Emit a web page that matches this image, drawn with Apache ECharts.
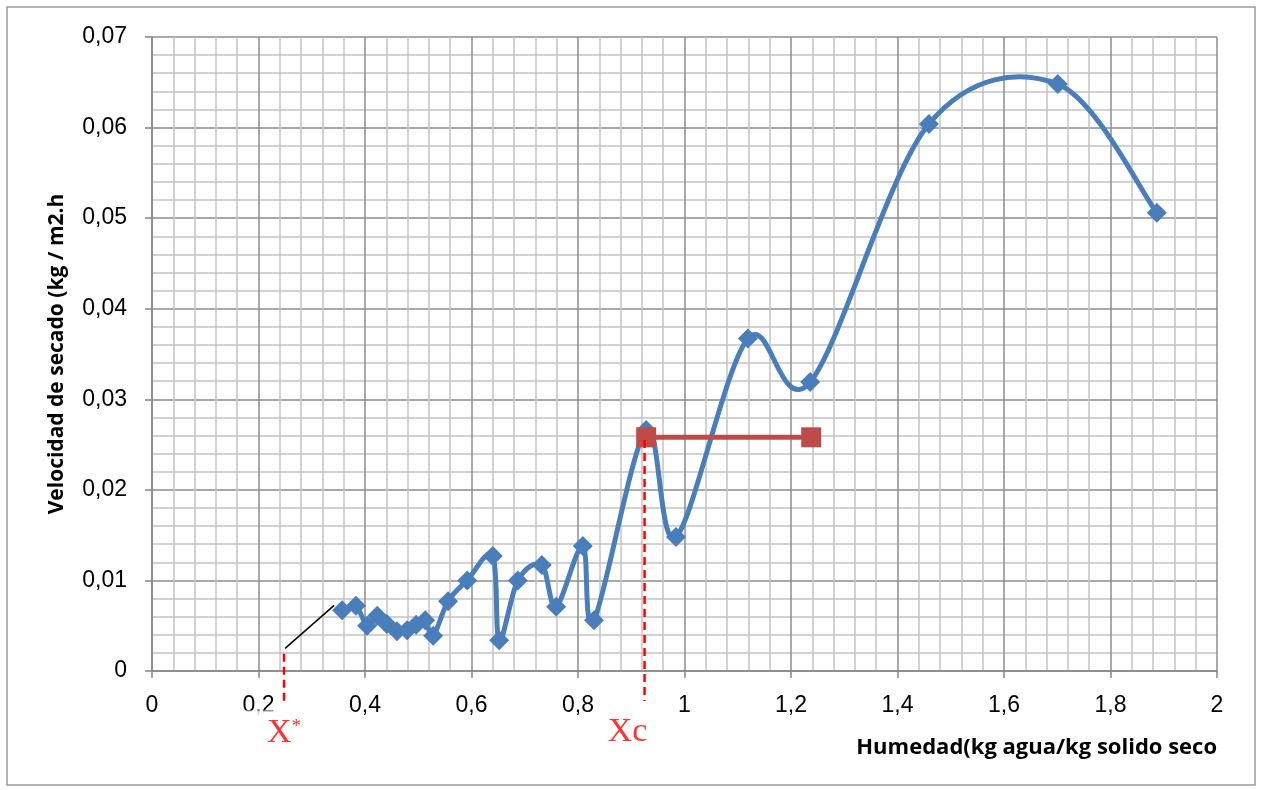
<!DOCTYPE html>
<html>
<head>
<meta charset="utf-8">
<script src="https://cdn.jsdelivr.net/npm/echarts@6/dist/echarts.min.js"></script>
<style>
  html, body { margin: 0; padding: 0; background: #fff; }
  #chart { width: 1261px; height: 790px; }
</style>
</head>
<body>
<div id="chart"></div>
<script>
// humedad (kg agua / kg solido seco) vs velocidad de secado
const humedad = [0.357, 0.383, 0.404, 0.423, 0.441, 0.460, 0.479, 0.496, 0.513, 0.528,
  0.556, 0.592, 0.640, 0.652, 0.687, 0.732, 0.759, 0.809, 0.830, 0.928,
  0.984, 1.119, 1.236, 1.459, 1.701, 1.887];
const velocidad = [0.0067, 0.0072, 0.0050, 0.0061, 0.0052, 0.0044, 0.0045, 0.0051, 0.0056, 0.0039,
  0.0077, 0.0100, 0.0127, 0.0034, 0.0100, 0.0117, 0.0071, 0.0138, 0.0056, 0.0266,
  0.0148, 0.0367, 0.0319, 0.0604, 0.0648, 0.0506];

// velocidad constante (periodo critico)
const criticoX = [0.928, 1.238];
const criticoY = [0.0258, 0.0258];

// marcas X* y Xc
const xEstrella = 0.248;
const xCritica = 0.925;
const tangenteX = [0.250, 0.342];
const tangenteY = [0.0025, 0.00725];

const xTicks = { min: 0, max: 2, step: 0.2 };
const yTicks = { min: 0, max: 0.07, step: 0.01 };

const fmt = v => String(+v.toFixed(3)).replace('.', ',');
const AZUL = '#4a7ebb';
const ROJO = '#be4b48';

// curva suavizada tipo Excel (bezier con tangentes de Catmull-Rom)
function tramoSuave(params, api) {
  const i = params.dataIndex;
  const n = humedad.length;
  if (i >= n - 1) return null;
  const pt = k => api.coord([humedad[k], velocidad[k]]);
  const p0 = pt(Math.max(i - 1, 0));
  const p1 = pt(i);
  const p2 = pt(i + 1);
  const p3 = pt(Math.min(i + 2, n - 1));
  const t = 1 / 6;
  return {
    type: 'bezierCurve',
    shape: {
      x1: p1[0], y1: p1[1], x2: p2[0], y2: p2[1],
      cpx1: p1[0] + (p2[0] - p0[0]) * t, cpy1: p1[1] + (p2[1] - p0[1]) * t,
      cpx2: p2[0] - (p3[0] - p1[0]) * t, cpy2: p2[1] - (p3[1] - p1[1]) * t
    },
    style: { fill: 'none', stroke: AZUL, lineWidth: 5, lineCap: 'round' }
  };
}

const chart = echarts.init(document.getElementById('chart'));

const puntos = humedad.map((x, i) => [x, velocidad[i]]);

const option = {
  animation: false,
  graphic: [{
    type: 'rect',
    shape: { x: 7, y: 7, width: 1248, height: 778 },
    style: { fill: 'none', stroke: '#9a9a9a', lineWidth: 1.5 },
    z: -1
  }],
  grid: { left: 152, right: 44, top: 37, bottom: 119 },
  xAxis: {
    type: 'value',
    min: xTicks.min, max: xTicks.max, interval: xTicks.step,
    name: 'Humedad(kg agua/kg solido seco',
    nameLocation: 'end',
    nameGap: 0,
    nameTextStyle: {
      align: 'right', verticalAlign: 'top', padding: [66, 0, 0, 0],
      fontFamily: 'Open Sans', fontWeight: 'bold', fontSize: 22, color: '#000'
    },
    axisLine: { show: true, lineStyle: { color: '#868686', width: 1.5 } },
    axisTick: { show: true, length: 7, lineStyle: { color: '#868686', width: 1.5 } },
    axisLabel: { formatter: fmt, margin: 23, fontFamily: 'Liberation Sans', fontSize: 23, color: '#000' },
    splitLine: { show: true, lineStyle: { color: '#8c8c8c', width: 1.5 } },
    minorTick: { show: false, splitNumber: 5 },
    minorSplitLine: { show: true, lineStyle: { color: '#c4c4c4', width: 1.5 } }
  },
  yAxis: {
    type: 'value',
    min: yTicks.min, max: yTicks.max, interval: yTicks.step,
    name: 'Velocidad de secado (kg / m2.h',
    nameLocation: 'middle',
    nameGap: 84,
    nameTextStyle: { fontFamily: 'Open Sans', fontWeight: 'bold', fontSize: 21, color: '#000' },
    axisLine: { show: true, lineStyle: { color: '#868686', width: 1.5 } },
    axisTick: { show: true, length: 7, lineStyle: { color: '#868686', width: 1.5 } },
    axisLabel: { formatter: fmt, margin: 25, fontFamily: 'Liberation Sans', fontSize: 23, color: '#000' },
    splitLine: { show: true, lineStyle: { color: '#8c8c8c', width: 1.5 } },
    minorTick: { show: false, splitNumber: 5 },
    minorSplitLine: { show: true, lineStyle: { color: '#c4c4c4', width: 1.5 } }
  },
  series: [
    {
      name: 'curva',
      type: 'custom',
      renderItem: tramoSuave,
      data: puntos,
      encode: { x: 0, y: 1 },
      z: 3
    },
    {
      name: 'velocidad',
      type: 'scatter',
      data: puntos,
      symbol: 'diamond',
      symbolSize: 20,
      itemStyle: { color: AZUL, opacity: 1 },
      z: 4
    },
    {
      name: 'critico',
      type: 'line',
      data: criticoX.map((x, i) => [x, criticoY[i]]),
      symbol: 'rect',
      symbolSize: 20,
      itemStyle: { color: ROJO },
      lineStyle: { color: ROJO, width: 5 },
      z: 5
    },
    {
      name: 'tangente',
      type: 'line',
      data: tangenteX.map((x, i) => [x, tangenteY[i]]),
      symbol: 'none',
      lineStyle: { color: '#000', width: 1.5 },
      z: 2
    },
    {
      name: 'xEstrella',
      type: 'line',
      clip: false,
      data: [[xEstrella, 0.0019], [xEstrella, -0.0033]],
      symbol: 'none',
      lineStyle: { color: '#ff0000', width: 2.5, type: [8, 5] },
      z: 6
    },
    {
      name: 'xCritica',
      type: 'line',
      clip: false,
      data: [[xCritica, 0.0255], [xCritica, -0.0033]],
      symbol: 'none',
      lineStyle: { color: '#ff0000', width: 2.5, type: [8, 5] },
      z: 6
    },
    {
      name: 'etiquetas',
      type: 'scatter',
      clip: false,
      symbolSize: 1,
      itemStyle: { color: 'rgba(0,0,0,0)' },
      data: [
        {
          value: [xEstrella, -0.0033],
          label: {
            show: true, position: 'bottom', distance: 9,
            formatter: '{x|X}{s|*}',
            backgroundColor: '#fff',
            padding: [7, 40, 4, 40],
            rich: {
              x: { fontFamily: 'Liberation Serif', fontSize: 34, color: '#ff0000', lineHeight: 32 },
              s: { fontFamily: 'Liberation Serif', fontSize: 19, color: '#ff0000', verticalAlign: 'top', lineHeight: 32 }
            }
          }
        },
        {
          value: [xCritica, -0.0033],
          label: {
            show: true, position: 'bottom', distance: 14, offset: [-17, 0],
            formatter: 'Xc',
            fontFamily: 'Liberation Serif', fontSize: 34, color: '#ff0000'
          }
        }
      ],
      z: 7
    }
  ]
};

chart.setOption(option);
</script>
</body>
</html>
